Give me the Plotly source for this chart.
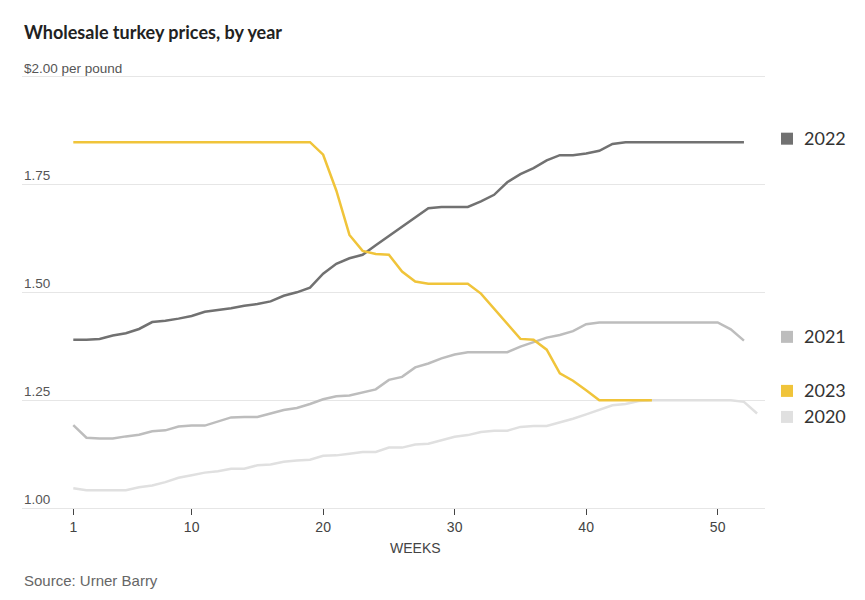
import plotly.graph_objects as go

weeks_2020 = list(range(1, 54))
weeks_2021 = list(range(1, 53))
weeks_2022 = list(range(1, 53))
weeks_2023 = list(range(1, 46))

price_2020 = [1.046, 1.041, 1.041, 1.041, 1.041, 1.048, 1.052, 1.060, 1.070, 1.076,
              1.082, 1.085, 1.091, 1.091, 1.099, 1.101, 1.107, 1.110, 1.112, 1.121,
              1.122, 1.126, 1.130, 1.130, 1.140, 1.140, 1.147, 1.149, 1.157, 1.165,
              1.169, 1.176, 1.179, 1.179, 1.188, 1.190, 1.190, 1.198, 1.207, 1.217,
              1.228, 1.238, 1.241, 1.248, 1.250, 1.250, 1.250, 1.250, 1.250, 1.250,
              1.250, 1.246, 1.219]
price_2021 = [1.192, 1.163, 1.161, 1.161, 1.166, 1.170, 1.178, 1.180, 1.189, 1.191,
              1.191, 1.200, 1.210, 1.211, 1.211, 1.219, 1.227, 1.232, 1.241, 1.252,
              1.259, 1.261, 1.268, 1.275, 1.297, 1.304, 1.326, 1.335, 1.347, 1.356,
              1.361, 1.361, 1.361, 1.361, 1.374, 1.384, 1.395, 1.401, 1.410, 1.426,
              1.430, 1.430, 1.430, 1.430, 1.430, 1.430, 1.430, 1.430, 1.430, 1.430,
              1.414, 1.388]
price_2022 = [1.390, 1.390, 1.392, 1.400, 1.405, 1.415, 1.431, 1.434, 1.439, 1.445,
              1.455, 1.459, 1.463, 1.469, 1.473, 1.479, 1.492, 1.500, 1.511, 1.543,
              1.566, 1.579, 1.587, 1.609, 1.630, 1.652, 1.674, 1.695, 1.698, 1.698,
              1.698, 1.711, 1.726, 1.755, 1.774, 1.788, 1.806, 1.818, 1.818, 1.822,
              1.828, 1.844, 1.848, 1.848, 1.848, 1.848, 1.848, 1.848, 1.848, 1.848,
              1.848, 1.848]
price_2023 = [1.848, 1.848, 1.848, 1.848, 1.848, 1.848, 1.848, 1.848, 1.848, 1.848,
              1.848, 1.848, 1.848, 1.848, 1.848, 1.848, 1.848, 1.848, 1.848, 1.819,
              1.736, 1.633, 1.596, 1.589, 1.587, 1.548, 1.525, 1.520, 1.520, 1.520,
              1.520, 1.497, 1.462, 1.427, 1.392, 1.390, 1.367, 1.312, 1.295, 1.273,
              1.250, 1.250, 1.250, 1.250, 1.250]

y_ticks = [1.00, 1.25, 1.50, 1.75, 2.00]
y_tick_labels = ["1.00", "1.25", "1.50", "1.75", "$2.00 per pound"]
x_ticks = [1, 10, 20, 30, 40, 50]

series = [
    ("2020", weeks_2020, price_2020, "#e0e0e0", 417),
    ("2021", weeks_2021, price_2021, "#bdbdbd", 337),
    ("2022", weeks_2022, price_2022, "#717171", 139),
    ("2023", weeks_2023, price_2023, "#f0c43a", 391),
]

NARROW = "Liberation Sans Narrow, Arial Narrow, Liberation Sans, sans-serif"
TITLE_FONT = "Lato, Open Sans, sans-serif"

# page body has an 8px default margin; compensate
OFF = 8
W, H = 865 - OFF, 600 - OFF

# reference pixel geometry of the plotting area
L, R = 22, 765
Y2, Y1 = 77, 508          # pixel rows of 2.00 and 1.00
UNIT = (Y1 - Y2)          # px per 1.00
PAD = 0.02
TOP = Y2 - PAD * UNIT
BOT = Y1


def px(x):
    return (x - L) / (R - L)


def py(y):
    return (BOT - y) / (BOT - TOP)


fig = go.Figure()
for name, wk, vals, color, _ in series:
    fig.add_trace(go.Scatter(x=wk, y=vals, mode="lines", name=name,
                             line=dict(color=color, width=2.5),
                             hoverinfo="x+y+name", cliponaxis=False))

annotations = []
shapes = []
for val, lab in zip(y_ticks, y_tick_labels):
    annotations.append(dict(x=0, xref="paper", y=val, yref="y", text=lab,
                            showarrow=False, xanchor="left", yanchor="bottom",
                            yshift=-1, font=dict(family=NARROW, size=13.5, color="#555")))

for name, _, _, color, ypix in series:
    annotations.append(dict(x=px(802), xref="paper", y=py(ypix - 1), yref="paper",
                            text=name, showarrow=False, xanchor="left",
                            yanchor="middle",
                            font=dict(family=TITLE_FONT, size=18, color="#333")))
    shapes.append(dict(type="rect", xref="paper", yref="paper",
                       x0=px(781), x1=px(793), y0=py(ypix - 6), y1=py(ypix + 6),
                       fillcolor=color, line=dict(width=0)))

annotations.append(dict(x=0, xref="paper", y=py(32), yref="paper",
                        text="<b>Wholesale turkey prices, by year</b>",
                        showarrow=False, xanchor="left", yanchor="middle",
                        font=dict(family=TITLE_FONT, size=18, color="#222")))
annotations.append(dict(x=px(415), xref="paper", y=py(548), yref="paper",
                        text="WEEKS", showarrow=False, xanchor="center",
                        yanchor="middle",
                        font=dict(family=NARROW, size=14, color="#444")))
annotations.append(dict(x=0, xref="paper", y=py(580), yref="paper",
                        text="Source: Urner Barry", showarrow=False,
                        xanchor="left", yanchor="middle",
                        font=dict(family=NARROW, size=15, color="#666")))

x_left = 1 - (73.3 - L) / 13.15
x_right = x_left + (R - L) / 13.15

fig.update_layout(
    width=W, height=H,
    margin=dict(l=L - OFF, r=(W + OFF) - R, t=TOP - OFF, b=(H + OFF) - BOT, pad=0),
    plot_bgcolor="white", paper_bgcolor="white",
    showlegend=False,
    annotations=annotations,
    shapes=shapes,
    xaxis=dict(range=[x_left, x_right], tickvals=x_ticks, showgrid=False,
               zeroline=False, showline=True, linecolor="#e6e6e6", linewidth=1,
               ticks="outside", ticklen=6, tickwidth=1, tickcolor="#444",
               ticklabelstandoff=0,
               tickfont=dict(family=NARROW, size=14, color="#444")),
    yaxis=dict(range=[1.0, 2 + PAD], tickvals=y_ticks, showticklabels=False,
               showgrid=True, gridcolor="#e6e6e6", gridwidth=1,
               zeroline=False, showline=False, ticks=""),
)

fig.write_html("out.html")
